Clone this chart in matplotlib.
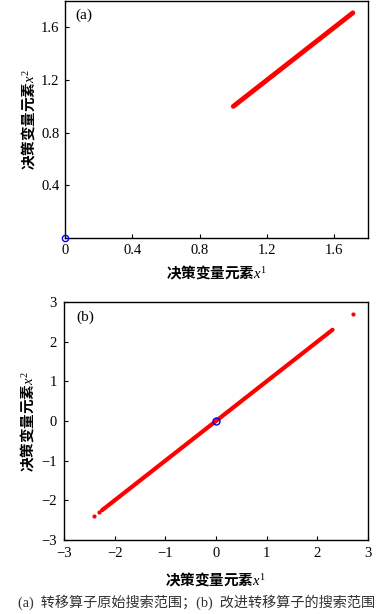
import matplotlib.pyplot as plt

plt.rcParams['font.family'] = ['Liberation Serif', 'Noto Sans CJK SC']
plt.rcParams['mathtext.fontset'] = 'custom'
plt.rcParams['mathtext.rm'] = 'Liberation Serif'
plt.rcParams['mathtext.it'] = 'Liberation Serif:italic'

# panel (a): original search range of the transfer operator
a_line_x = [1.0, 1.71]
a_line_y = [1.0, 1.71]
a_best = (0.0, 0.0)
a_xticks = [0, 0.4, 0.8, 1.2, 1.6]
a_yticks = [0.4, 0.8, 1.2, 1.6]

# panel (b): improved transfer operator search range
b_line_x = [-2.25, 2.3]
b_line_y = [-2.25, 2.3]
b_pts_x = [-2.4, -2.3, 2.7]
b_pts_y = [-2.4, -2.3, 2.7]
b_best = (0.0, 0.0)
b_ticks = [-3, -2, -1, 0, 1, 2, 3]

xlabel = '决策变量元素$x^1$'
ylabel = '决策变量元素$x^2$'
caption = '(a)  转移算子原始搜索范围；(b)  改进转移算子的搜索范围'

lab_kw = dict(fontsize=10.5, family='Noto Sans CJK SC', fontweight='bold')

fig = plt.figure(figsize=(3.87, 6.14), dpi=100)
W, H = 387, 614
ax1 = fig.add_axes([65 / W, 1 - 238 / H, 303 / W, 237 / H])
ax2 = fig.add_axes([64 / W, 1 - 540 / H, 304 / W, 238 / H])


def style(ax, pad):
    ax.tick_params(direction='in', length=3, width=0.8, labelsize=10.5,
                   top=False, right=False, pad=pad)
    for s in ax.spines.values():
        s.set_linewidth(1.0)


# (a)
ax1.plot(a_line_x, a_line_y, color='red', lw=3.5, solid_capstyle='round')
ax1.plot(*a_best, 'o', mfc='none', mec='blue', ms=4.5, mew=1, clip_on=False, zorder=5)
ax1.set_xlim(0, 1.8)
ax1.set_ylim(0, 1.8)
ax1.set_xticks(a_xticks)
ax1.set_xticklabels(['0', '0.4', '0.8', '1.2', '1.6'])
ax1.set_yticks(a_yticks)
ax1.set_yticklabels(['0.4', '0.8', '1.2', '1.6'])
style(ax1, 4)
ax1.text(0.035, 0.97, '(a)', transform=ax1.transAxes, ha='left', va='top', fontsize=11)
ax1.set_xlabel(xlabel, labelpad=5, **lab_kw)
ax1.set_ylabel(ylabel, labelpad=2, **lab_kw)

# (b)
ax2.plot(b_line_x, b_line_y, color='red', lw=3, solid_capstyle='round')
ax2.plot(b_pts_x, b_pts_y, '.', color='red', ms=4, lw=0)
ax2.plot(*b_best, 'o', mfc='none', mec='blue', ms=5, mew=1, zorder=5)
ax2.set_xlim(-3, 3)
ax2.set_ylim(-3, 3)
ax2.set_xticks(b_ticks)
ax2.set_yticks(b_ticks)
ax2.set_xticklabels([str(t).replace('-', '\u2212') for t in b_ticks])
ax2.set_yticklabels([str(t).replace('-', '\u2212') for t in b_ticks])
style(ax2, 5)
ax2.text(0.04, 0.965, '(b)', transform=ax2.transAxes, ha='left', va='top', fontsize=11)
ax2.set_xlabel(xlabel, labelpad=8, **lab_kw)
ax2.set_ylabel(ylabel, labelpad=3, **lab_kw)

fig.text(197 / W, 1 - 602 / H, caption, ha='center', va='center', fontsize=10.2,
         color='#333333', family=['Liberation Serif', 'Noto Sans CJK SC'])

fig.savefig('out.png', dpi=100)
